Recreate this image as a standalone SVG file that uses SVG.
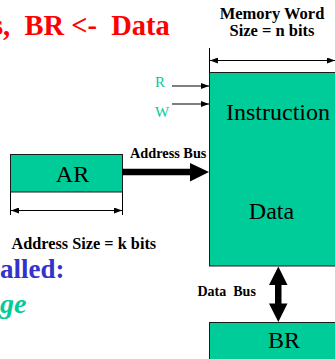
<svg xmlns="http://www.w3.org/2000/svg" width="335" height="359" viewBox="0 0 335 359">
  <style>
    text { font-family: "Liberation Serif", serif; }
    .box { fill: #00CC99; stroke: #1a1a1a; stroke-width: 1; }
    .big { font-size: 24px; fill: #000; }
    .lbl { font-weight: bold; fill: #000; }
    .sig { font-size: 15px; fill: #00CC99; }
    .dim { stroke: #000; stroke-width: 1; fill: none; }
    .thin { stroke: #000; stroke-width: 1.2; fill: none; }
  </style>
  <defs>
    <marker id="tip" markerUnits="userSpaceOnUse" markerWidth="8" markerHeight="6" refX="8" refY="3" orient="auto-start-reverse">
      <path d="M0,0 L8,3 L0,6 z" fill="#000"/>
    </marker>
  </defs>
  <rect width="335" height="359" fill="#fff"/>

  <!-- headline fragments -->
  <text x="-8" y="35" xml:space="preserve" font-weight="bold" font-size="28.5" fill="#FF0000">s,  BR &lt;-  Data</text>
  <text x="0" y="278" font-weight="bold" font-size="27" fill="#3333CC">alled:</text>
  <text x="0" y="313" font-weight="bold" font-style="italic" font-size="28" fill="#00CC99">ge</text>

  <!-- memory word width dimension -->
  <text class="lbl" x="272" y="18.5" font-size="16.5" text-anchor="middle">Memory Word</text>
  <text class="lbl" x="272" y="36" font-size="16.5" text-anchor="middle">Size = n bits</text>
  <line class="dim" x1="209.5" y1="48" x2="209.5" y2="73"/>
  <line class="dim" x1="210" y1="60.5" x2="335" y2="60.5" marker-start="url(#tip)" marker-end="url(#tip)"/>

  <!-- memory -->
  <g id="memory">
    <rect class="box" x="209.5" y="72.5" width="140" height="193.5"/>
    <text class="big" x="226" y="120">Instruction</text>
    <text class="big" x="271.5" y="219" text-anchor="middle">Data</text>
  </g>

  <!-- control signals -->
  <g id="signals">
    <text class="sig" x="155" y="87">R</text>
    <text class="sig" x="155" y="117">W</text>
  </g>

  <!-- address register -->
  <g id="AR">
    <rect class="box" x="10.5" y="154.5" width="112" height="37.5"/>
    <text class="big" x="72.5" y="182" text-anchor="middle">AR</text>
  </g>
  <line class="dim" x1="10.5" y1="192" x2="10.5" y2="215"/>
  <line class="dim" x1="122.5" y1="192" x2="122.5" y2="215"/>
  <line class="dim" x1="11" y1="210.5" x2="122" y2="210.5" marker-start="url(#tip)" marker-end="url(#tip)"/>
  <text class="lbl" x="11.5" y="249" font-size="16.3">Address Size = k bits</text>

  <!-- buffer register -->
  <g id="BR">
    <rect class="box" x="209.5" y="322.5" width="140" height="50"/>
    <text class="big" x="268" y="348">BR</text>
  </g>

  <!-- connectors -->
  <g id="connectors">
    <line class="thin" x1="172" y1="86" x2="209" y2="86" marker-end="url(#tip)"/>
    <line class="thin" x1="172" y1="104" x2="209" y2="104" marker-end="url(#tip)"/>
    <line x1="122" y1="172" x2="191" y2="172" stroke="#000" stroke-width="6.5"/>
    <polygon points="190,163 209,172 190,181.5" fill="#000"/>
    <polygon points="278.3,266.5 287.5,285 281.5,285 281.5,303.5 287.5,303.5 278.3,322 269,303.5 275,303.5 275,285 269,285" fill="#000"/>
  </g>
  <text class="lbl" x="130" y="158" font-size="14.3">Address Bus</text>
  <text class="lbl" x="197.5" y="296" font-size="14" xml:space="preserve">Data  Bus</text>
</svg>
